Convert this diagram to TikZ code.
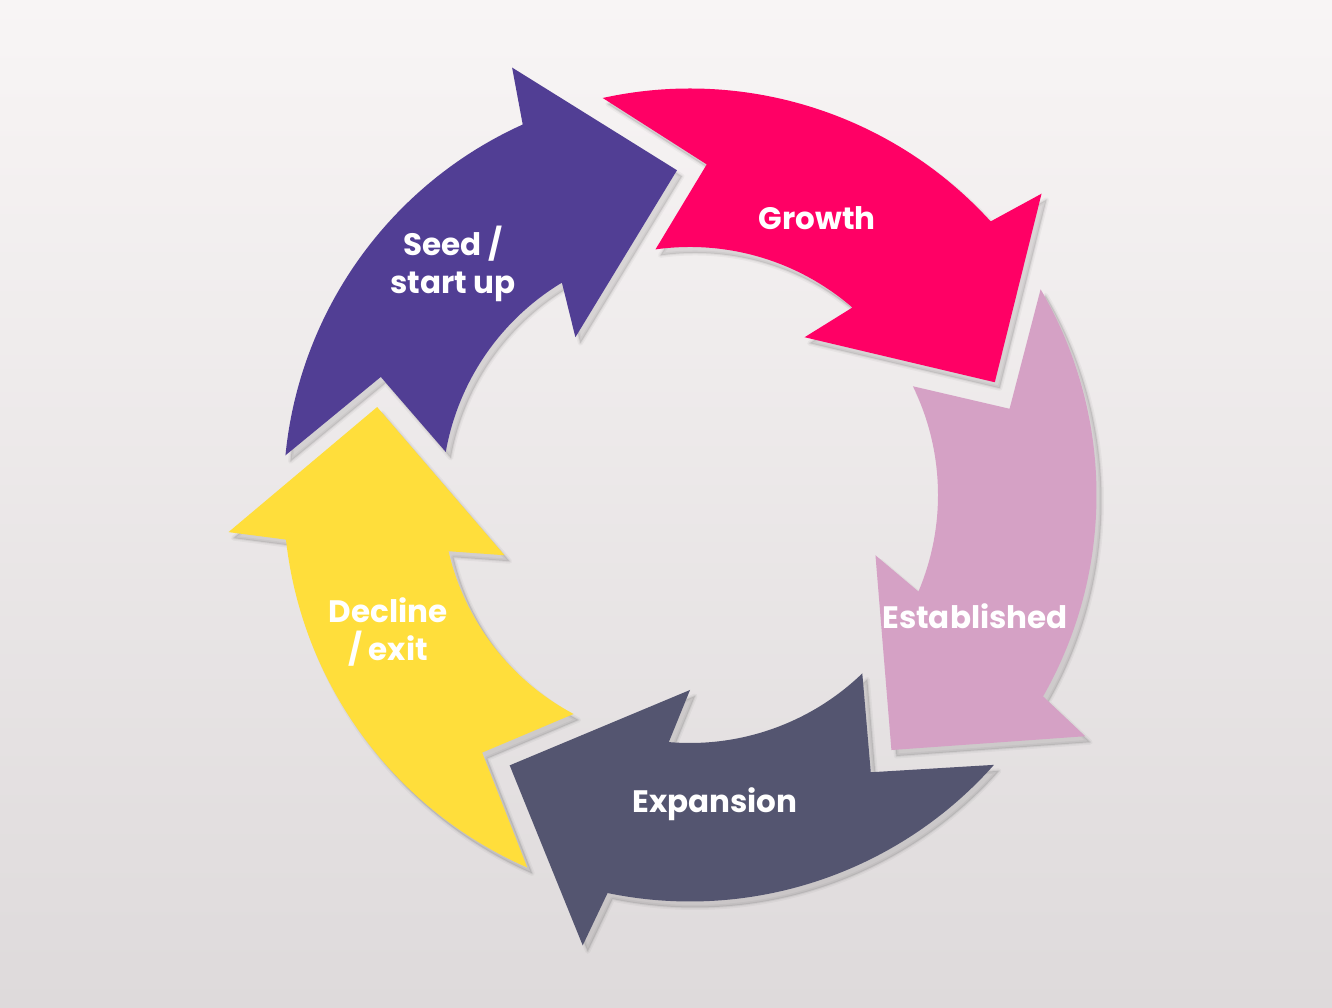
\documentclass[tikz,border=0pt]{standalone}
\usepackage{fontspec}
\newfontfamily\pop{Poppins}
\definecolor{cpurple}{HTML}{513E94}
\definecolor{cpink}{HTML}{FF0065}
\definecolor{clilac}{HTML}{D5A1C5}
\definecolor{cslate}{HTML}{545570}
\definecolor{cyellow}{HTML}{FFDE3B}
\definecolor{bgtop}{HTML}{F8F5F5}
\definecolor{bgbot}{HTML}{DEDADB}
\begin{document}
\begin{tikzpicture}[x=1pt,y=1pt,
  arrowshape/.style={insert path={(174.4:406.5) arc[start angle=174.4,end angle=114.3,radius=406.5pt] -- (112.6:463) -- (92.3:325) -- (126.0:195) -- (121.1:248) arc[start angle=121.1,end angle=170,radius=248pt] -- (159.1:331) -- cycle}},
  lbl/.style={text=white, font=\pop\bfseries\fontsize{31}{38}\selectfont, align=center, inner sep=0pt}]
\shade[top color=bgtop, bottom color=bgbot] (0,0) rectangle (1332,1008);
\useasboundingbox (0,0) rectangle (1332,1008);
% soft shadows
\foreach \k in {0,...,4}{
  \begin{scope}[shift={(695,507)}, rotate=-72*\k]
    \draw[black, opacity=0.035, line width=5pt, line join=round, arrowshape];
    \draw[black, opacity=0.05, line width=2pt, line join=round, arrowshape];
    \fill[black, opacity=0.10, arrowshape];
  \end{scope}}
% arrows
\foreach \k/\c in {0/cpurple,1/cpink,2/clilac,3/cslate,4/cyellow}{
  \begin{scope}[shift={(690,513)}, rotate=-72*\k]
    \fill[\c, arrowshape];
  \end{scope}}
% labels
\node[lbl] (seed) at (453,744) {Seed /\\start up};
\node[lbl] (growth) at (817,790) {Growth};
\node[lbl] (est) at (975,392) {Established};
\node[lbl] (exp) at (715,204) {Expansion};
\node[lbl] (dec) at (388,376) {Decline\\/ exit};
\end{tikzpicture}
\end{document}
